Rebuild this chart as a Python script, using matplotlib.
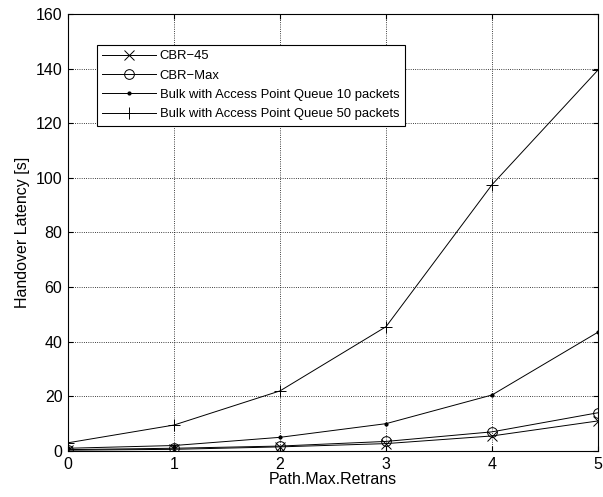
import numpy as np
import matplotlib
matplotlib.use("Agg")
import matplotlib.pyplot as plt

plt.rcParams['font.family'] = ['Liberation Sans', 'DejaVu Sans']

retrans = [0, 1, 2, 3, 4, 5]
cbr45 = [0.3, 0.6, 1.5, 2.7, 5.5, 11.0]
cbrmax = [0.5, 1.0, 1.8, 3.5, 7.0, 14.0]
bulk10 = [1.0, 2.0, 5.0, 10.0, 20.5, 43.5]
bulk50 = [3.0, 9.5, 22.0, 45.5, 97.5, 139.5]

fig = plt.figure(figsize=(6.03, 4.97), dpi=100)
ax = fig.add_axes([0.1128, 0.0926, 0.8789, 0.8792])

ax.plot(retrans, cbr45, color='black', lw=0.7, marker='x', ms=7, mew=0.7, label='CBR\u221245')
ax.plot(retrans, cbrmax, color='black', lw=0.7, marker='o', ms=7, mew=0.7, mfc='none', label='CBR\u2212Max')
ax.plot(retrans, bulk10, color='black', lw=0.7, marker='.', ms=4, label='Bulk with Access Point Queue 10 packets')
ax.plot(retrans, bulk50, color='black', lw=0.7, marker='+', ms=8, mew=0.7, label='Bulk with Access Point Queue 50 packets')

ax.set_xlim(0, 5)
ax.set_ylim(0, 160)
ax.set_xticks(range(6))
ax.set_yticks(range(0, 161, 20))
ax.grid(True, color='black', linestyle=':', linewidth=0.6)
ax.tick_params(direction='in', labelsize=11.5, top=True, right=True, pad=4)
for s in ax.spines.values():
    s.set_linewidth(0.8)

ax.set_xlabel('Path.Max.Retrans', fontsize=11.5, labelpad=0)
ax.set_ylabel('Handover Latency [s]', fontsize=11.5, labelpad=4)

leg = ax.legend(loc='upper left', bbox_to_anchor=(0.055, 0.929), fontsize=9.4,
                fancybox=False, edgecolor='black', framealpha=1,
                handlelength=4.1, handletextpad=0.3, borderpad=0.4,
                labelspacing=0.55, borderaxespad=0)
leg.get_frame().set_linewidth(0.8)

fig.savefig('out.png', dpi=100)
